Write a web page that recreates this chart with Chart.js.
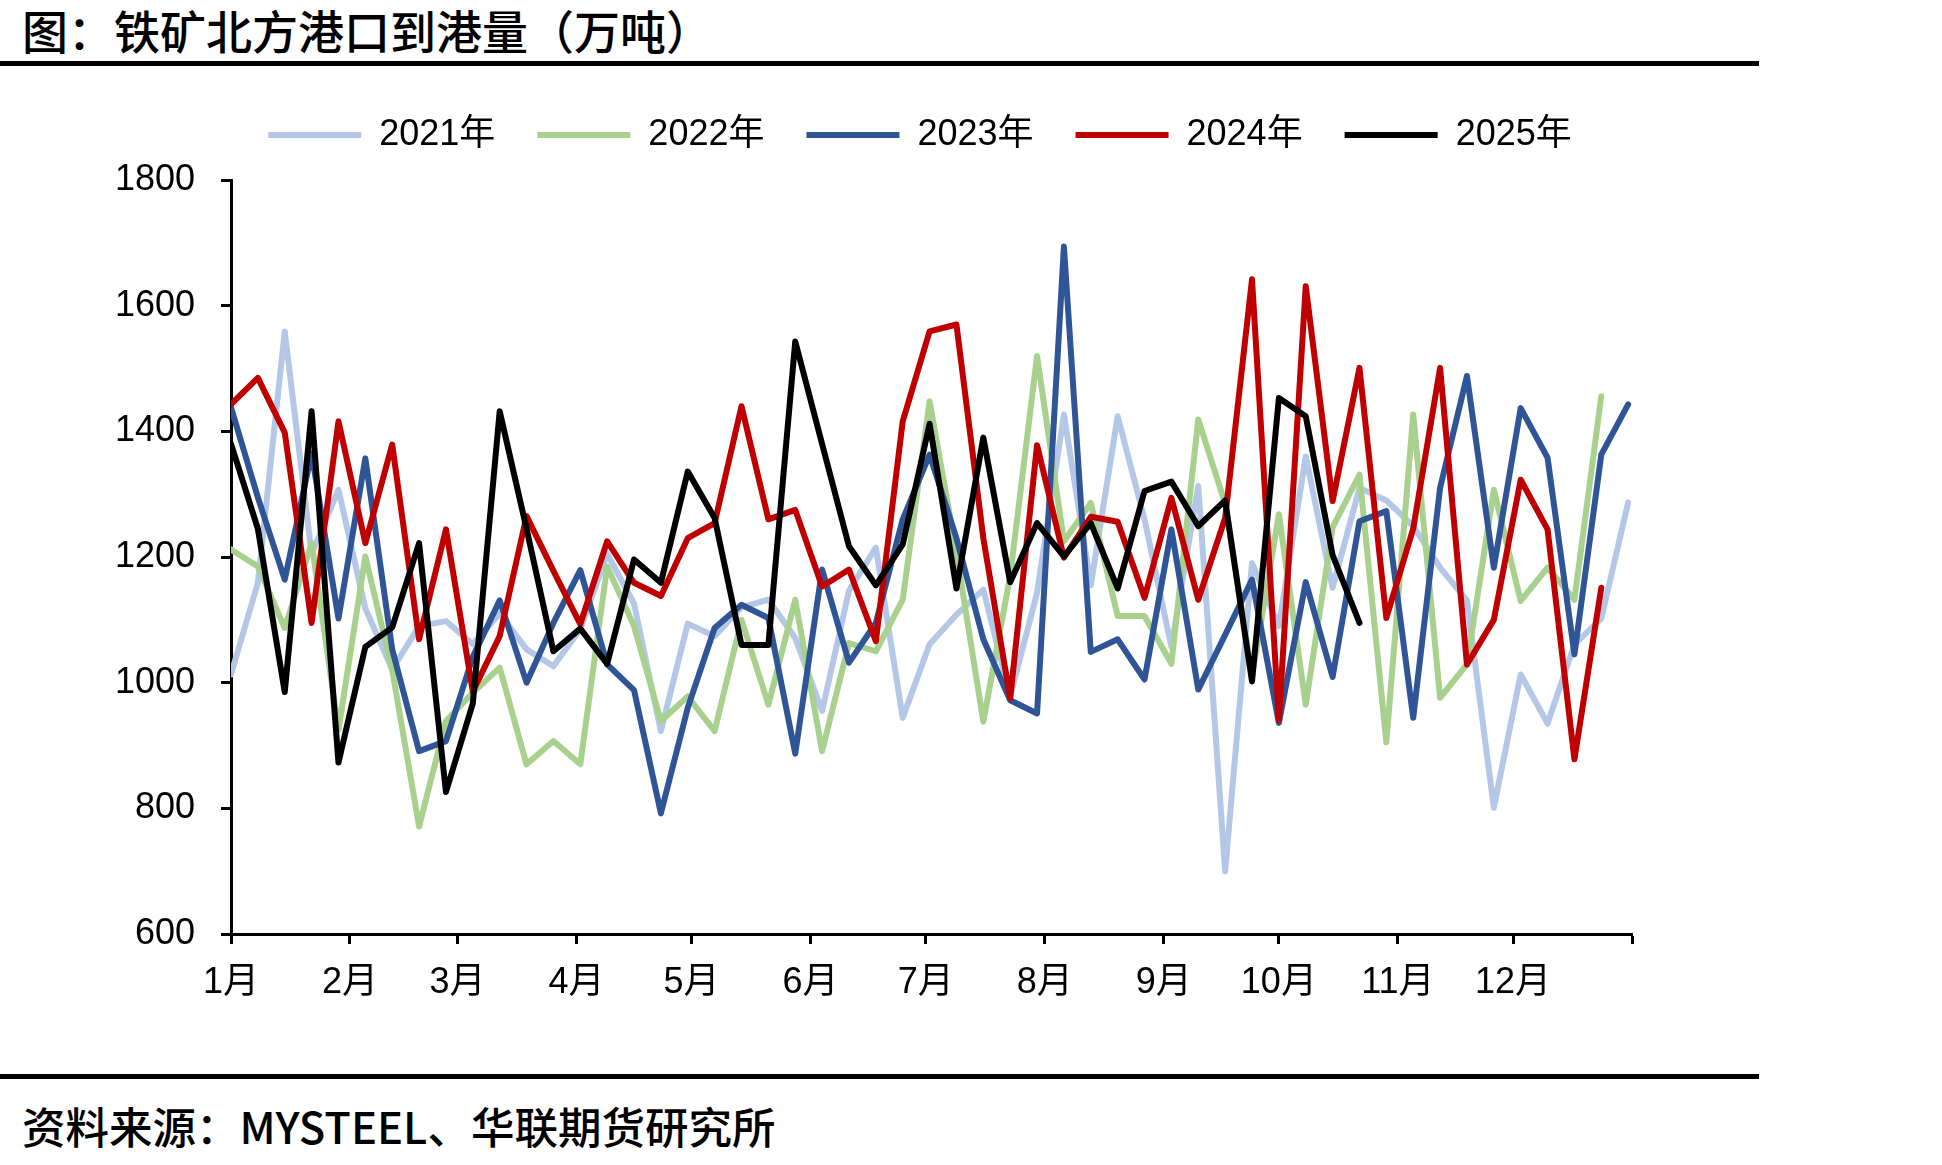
<!DOCTYPE html>
<html lang="zh">
<head>
    <meta charset="UTF-8">
    <title>铁矿北方港口到港量（万吨）</title>
    <style>
        body { margin: 0; background: #fff; width: 1942px; height: 1165px; position: relative; overflow: hidden; font-family: "Noto Sans CJK SC", sans-serif; color: #000; }
        .title { position: absolute; left: 22px; top: 6px; font-size: 46px; line-height: 46px; font-weight: 500; white-space: nowrap; }
        .rule { position: absolute; left: 0; width: 1759px; height: 5px; background: #000; }
        .source { position: absolute; left: 22px; top: 1104px; font-size: 43.5px; line-height: 44px; font-weight: 500; white-space: nowrap; }
        #wrap { position: absolute; left: 0; top: 60px; width: 1840px; height: 1000px; }
    </style>
</head>
<body>
    <div class="title">图：铁矿北方港口到港量（万吨）</div>
    <div class="rule" style="top: 61px;"></div>

    <div id="wrap"><canvas id="chart" width="1840" height="1000"></canvas></div>

    <div class="rule" style="top: 1074px;"></div>
    <div class="source">资料来源：MYSTEEL、华联期货研究所</div>

    <script src="https://cdn.jsdelivr.net/npm/chart.js@4/dist/chart.umd.min.js"></script>
    <script>
        // x axis: days of the year, one label per month start
        const monthLabels = ['1月', '2月', '3月', '4月', '5月', '6月', '7月', '8月', '9月', '10月', '11月', '12月'];
        const monthStartDays = [0, 31, 59, 90, 120, 151, 181, 212, 243, 273, 304, 334, 365];
        const daysPerWeek = 7;

        // weekly arrivals, 万吨 (week 1 = first point of the year)
        const arrivals2021 = [1013, 1159, 1559, 1205, 1307, 1118, 1021, 1090, 1098, 1061, 1110, 1053, 1026, 1085, 1205, 1126, 923, 1094, 1074, 1120, 1132, 1071, 955, 1146, 1215, 944, 1061, 1108, 1148, 978, 1143, 1427, 1155, 1424, 1260, 1057, 1313, 700, 1190, 1090, 1360, 1151, 1310, 1290, 1249, 1183, 1131, 801, 1013, 935, 1061, 1102, 1287];
        const arrivals2022 = [1212, 1185, 1087, 1222, 925, 1201, 1020, 771, 939, 984, 1024, 870, 907, 870, 1185, 1090, 939, 978, 923, 1100, 965, 1132, 891, 1063, 1050, 1132, 1448, 1207, 938, 1170, 1520, 1225, 1286, 1106, 1106, 1030, 1419, 1285, 1010, 1268, 965, 1247, 1331, 905, 1427, 976, 1029, 1307, 1130, 1183, 1132, 1456];
        const arrivals2023 = [1438, 1295, 1164, 1365, 1102, 1357, 1053, 891, 907, 1041, 1131, 1000, 1095, 1179, 1029, 988, 792, 960, 1087, 1124, 1103, 887, 1180, 1032, 1095, 1260, 1363, 1230, 1069, 972, 951, 1694, 1049, 1069, 1005, 1244, 989, 1076, 1164, 936, 1160, 1009, 1257, 1273, 944, 1310, 1488, 1183, 1437, 1358, 1045, 1363, 1443];
        const arrivals2024 = [1443, 1485, 1398, 1095, 1416, 1222, 1379, 1069, 1244, 986, 1074, 1265, 1178, 1093, 1225, 1159, 1138, 1230, 1254, 1440, 1260, 1275, 1153, 1180, 1066, 1416, 1559, 1570, 1230, 975, 1378, 1199, 1264, 1256, 1135, 1294, 1132, 1262, 1642, 941, 1631, 1289, 1501, 1103, 1245, 1501, 1029, 1100, 1323, 1244, 878, 1151];
        const arrivals2025 = [1380, 1245, 985, 1432, 873, 1057, 1088, 1222, 826, 967, 1432, 1245, 1050, 1086, 1030, 1196, 1159, 1336, 1262, 1060, 1060, 1543, 1380, 1217, 1155, 1220, 1412, 1150, 1390, 1160, 1254, 1201, 1254, 1150, 1305, 1320, 1249, 1290, 1002, 1453, 1424, 1203, 1095];

        const seriesNames = ['2021年', '2022年', '2023年', '2024年', '2025年'];
        const seriesValues = [arrivals2021, arrivals2022, arrivals2023, arrivals2024, arrivals2025];
        const seriesColors = ['#B4C7E7', '#A9D18E', '#2F5597', '#C00000', '#000000'];

        const yMin = 600, yMax = 1800, yStep = 200;

        const textFont = { family: '"Liberation Sans", "Noto Sans CJK SC", sans-serif', size: 36 };
        const axisGrid = { drawOnChartArea: false, drawTicks: true, tickLength: 10, tickWidth: 3, tickColor: '#000' };
        const axisBorder = { display: true, color: '#000', width: 3 };

        const datasets = seriesNames.map((name, i) => ({
            label: name,
            data: seriesValues[i].map((v, w) => ({ x: w * daysPerWeek, y: v })),
            borderColor: seriesColors[i],
            backgroundColor: seriesColors[i],
            borderWidth: 6,
            borderCapStyle: 'round',
            borderJoinStyle: 'round',
            pointRadius: 0,
            tension: 0,
            order: seriesNames.length - 1 - i   // later years drawn on top
        }));

        // a bit of room between the legend row and the plot
        const legendGap = {
            id: 'legendGap',
            afterInit(chart) {
                const fit = chart.legend.fit;
                chart.legend.fit = function () { fit.call(this); this.height += 17; };
            }
        };

        new Chart(document.getElementById('chart').getContext('2d'), {
            type: 'line',
            data: { datasets: datasets },
            plugins: [legendGap],
            options: {
                responsive: false,
                maintainAspectRatio: false,
                animation: false,
                layout: { padding: { left: 0, right: 0, top: 15, bottom: 0 } },
                plugins: {
                    tooltip: { enabled: false },
                    legend: {
                        position: 'top',
                        labels: {
                            usePointStyle: true,
                            pointStyle: 'line',
                            pointStyleWidth: 93,
                            boxHeight: 5,
                            padding: 42,
                            color: '#000',
                            font: textFont,
                            sort: (a, b) => a.datasetIndex - b.datasetIndex
                        }
                    }
                },
                scales: {
                    x: {
                        type: 'linear',
                        min: 0,
                        max: 365,
                        afterBuildTicks: s => { s.ticks = monthStartDays.map(d => ({ value: d })); },
                        afterFit: s => { s.height = 126; s.paddingLeft = 0; s.paddingRight = 0; },
                        ticks: {
                            autoSkip: false,
                            maxRotation: 0,
                            padding: 17,
                            color: '#000',
                            font: textFont,
                            callback: (v, idx) => monthLabels[idx] || ''
                        },
                        grid: axisGrid,
                        border: axisBorder
                    },
                    y: {
                        min: yMin,
                        max: yMax,
                        afterFit: s => { s.width = 231; },
                        ticks: {
                            stepSize: yStep,
                            padding: 26,
                            color: '#000',
                            font: textFont,
                            callback: v => String(v)
                        },
                        grid: axisGrid,
                        border: axisBorder
                    },
                    // empty right-hand box so the legend centres like the original
                    yRight: {
                        type: 'linear',
                        position: 'right',
                        display: true,
                        afterFit: s => { s.width = 208; },
                        ticks: { display: false },
                        grid: { display: false },
                        border: { display: false }
                    }
                }
            }
        });
    </script>
</body>
</html>
